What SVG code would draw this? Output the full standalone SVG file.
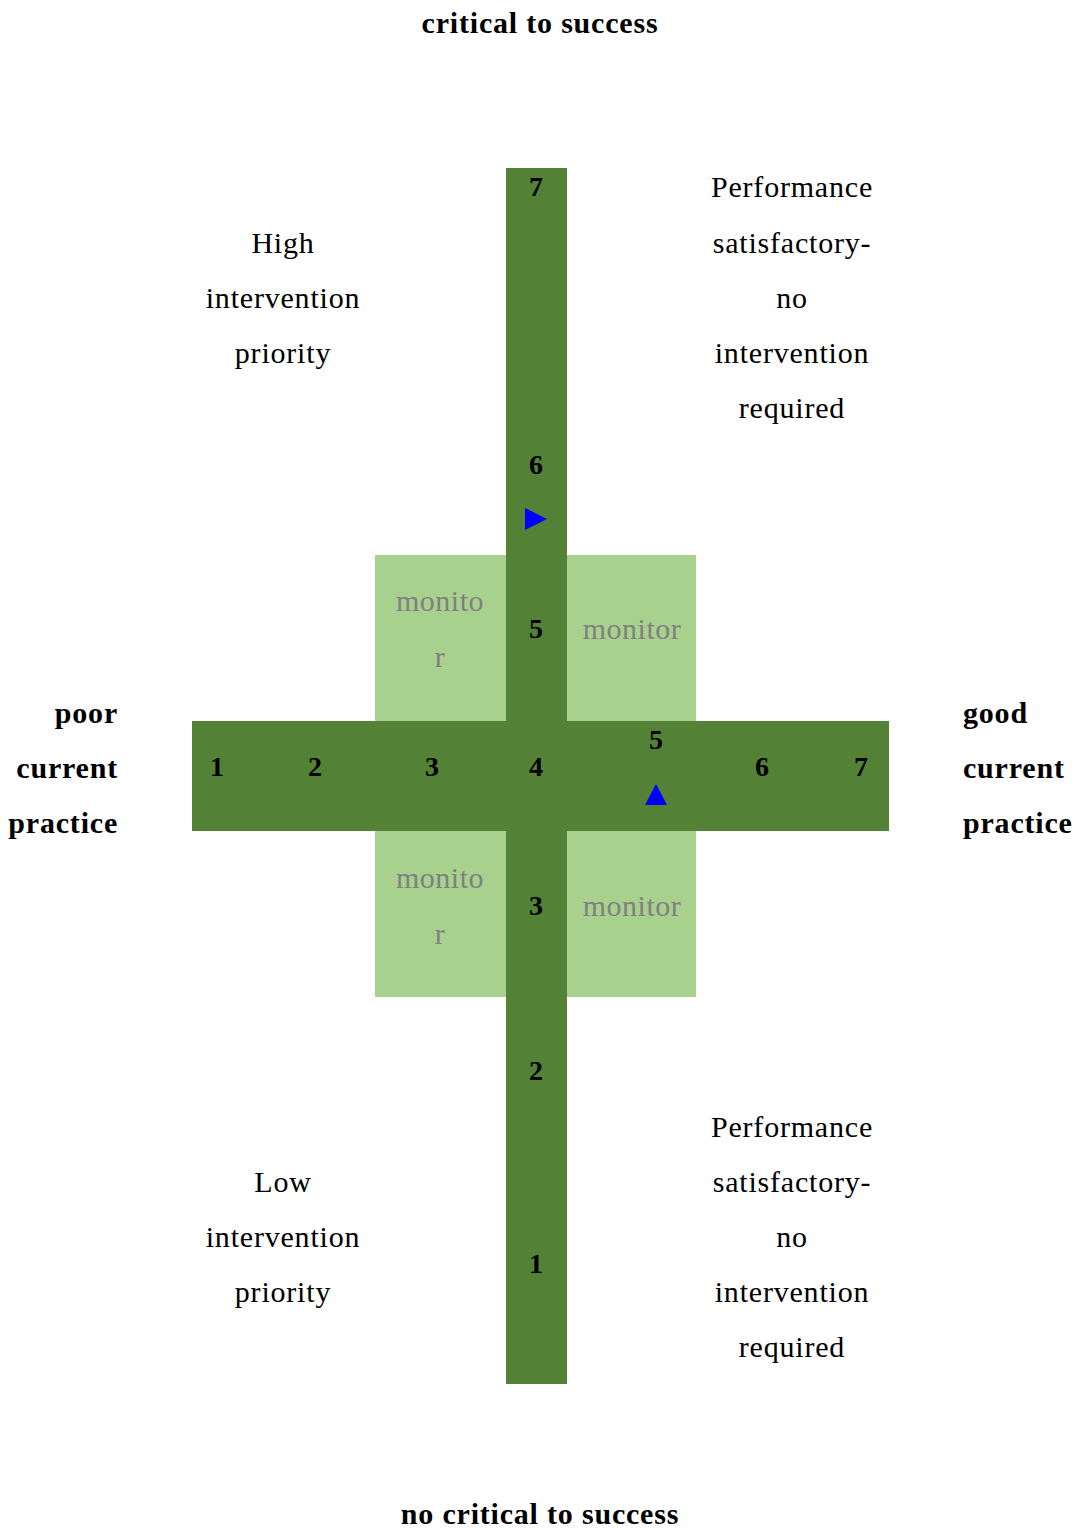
<svg xmlns="http://www.w3.org/2000/svg" width="1075" height="1529" viewBox="0 0 1075 1529">
<style>
.t{font-family:"Liberation Serif","Times New Roman",serif;font-size:30px;letter-spacing:0.8px;fill:#000}
.b{font-family:"Liberation Serif","Times New Roman",serif;font-size:30px;font-weight:bold;letter-spacing:0.8px;fill:#000}
.n{font-family:"Liberation Serif","Times New Roman",serif;font-size:28px;font-weight:bold;fill:#000;text-anchor:middle}
.m{font-family:"Liberation Serif","Times New Roman",serif;font-size:30px;letter-spacing:0.5px;fill:#808080;text-anchor:middle}
.c{text-anchor:middle}
.dark{fill:#538135}
.light{fill:#A9D18E}
.tri{fill:#0000FF}
</style>
<rect width="1075" height="1529" fill="#fff"/>
<g id="monitor-boxes">
<rect class="light" x="375" y="555" width="131" height="166"/>
<rect class="light" x="567" y="555" width="129" height="166"/>
<rect class="light" x="375" y="831" width="131" height="166"/>
<rect class="light" x="567" y="831" width="129" height="166"/>
</g>
<g id="axes">
<rect class="dark" x="506" y="168" width="61" height="1216"/>
<rect class="dark" x="192" y="721" width="697" height="110"/>
</g>
<g id="v-scale">
<text class="n" x="536" y="196">7</text>
<text class="n" x="536" y="474">6</text>
<text class="n" x="536" y="638">5</text>
<text class="n" x="536" y="776">4</text>
<text class="n" x="536" y="915">3</text>
<text class="n" x="536" y="1080">2</text>
<text class="n" x="536" y="1273">1</text>
</g>
<g id="h-scale">
<text class="n" x="217" y="776">1</text>
<text class="n" x="315" y="776">2</text>
<text class="n" x="432" y="776">3</text>
<text class="n" x="656" y="749">5</text>
<text class="n" x="762" y="776">6</text>
<text class="n" x="861" y="776">7</text>
</g>
<g id="markers">
<polygon class="tri" points="525,508 547,519 525,530"/>
<polygon class="tri" points="656,784 667,805 645,805"/>
</g>
<g id="monitor-labels">
<text class="m" x="440" y="611">monito</text>
<text class="m" x="440" y="667">r</text>
<text class="m" x="632" y="639">monitor</text>
<text class="m" x="440" y="888">monito</text>
<text class="m" x="440" y="944">r</text>
<text class="m" x="632" y="916">monitor</text>
</g>
<g id="quadrant-high">
<text class="t c" x="283" y="253">High</text>
<text class="t c" x="283" y="308">intervention</text>
<text class="t c" x="283" y="363">priority</text>
</g>
<g id="quadrant-top-right">
<text class="t c" x="792" y="197">Performance</text>
<text class="t c" x="792" y="253">satisfactory-</text>
<text class="t c" x="792" y="308">no</text>
<text class="t c" x="792" y="363">intervention</text>
<text class="t c" x="792" y="418">required</text>
</g>
<g id="quadrant-low">
<text class="t c" x="283" y="1192">Low</text>
<text class="t c" x="283" y="1247">intervention</text>
<text class="t c" x="283" y="1302">priority</text>
</g>
<g id="quadrant-bottom-right">
<text class="t c" x="792" y="1137">Performance</text>
<text class="t c" x="792" y="1192">satisfactory-</text>
<text class="t c" x="792" y="1247">no</text>
<text class="t c" x="792" y="1302">intervention</text>
<text class="t c" x="792" y="1357">required</text>
</g>
<g id="axis-labels">
<text class="b c" x="540" y="33">critical to success</text>
<text class="b c" x="540" y="1524">no critical to success</text>
<text class="b" x="118" y="723" text-anchor="end">poor</text>
<text class="b" x="118" y="778" text-anchor="end">current</text>
<text class="b" x="118" y="833" text-anchor="end">practice</text>
<text class="b" x="963" y="723">good</text>
<text class="b" x="963" y="778">current</text>
<text class="b" x="963" y="833">practice</text>
</g>
</svg>
